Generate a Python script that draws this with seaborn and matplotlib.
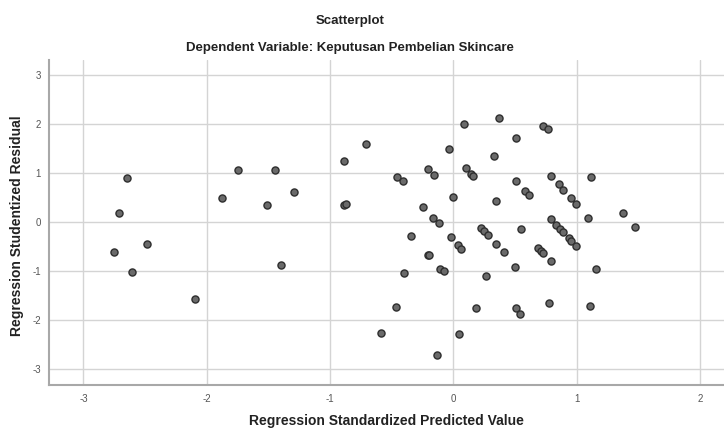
import numpy as np
import pandas as pd
import matplotlib
matplotlib.use("Agg")
import matplotlib.pyplot as plt
import seaborn as sns

# predicted value (standardized) vs studentized residual
pred = [-2.646, -2.709, -2.749, -2.487, -2.606, -2.098, -1.873, -1.749, -1.449, -1.514,
        -1.292, -1.400, -0.889, -0.884, -0.874, -0.708, -0.586, -0.459, -0.411, -0.343,
        -0.397, -0.465, -0.203, -0.157, -0.035, 0.084, 0.000, -0.243, -0.162, -0.118,
        -0.019, 0.036, 0.062, -0.203, -0.195, -0.105, -0.078, -0.132, 0.049, 0.103,
        0.141, 0.162, 0.371, 0.328, 0.346, 0.227, 0.251, 0.279, 0.346, 0.409,
        0.265, 0.184, 0.506, 0.509, 0.584, 0.611, 0.552, 0.503, 0.506, 0.544,
        0.727, 0.768, 0.792, 0.857, 0.892, 0.952, 0.995, 0.790, 0.833, 0.868,
        0.890, 0.936, 0.955, 0.995, 0.687, 0.709, 0.730, 0.792, 0.774, 1.114,
        1.095, 1.157, 1.111, 1.376, 1.476]
resid = [0.904, 0.177, -0.612, -0.456, -1.014, -1.565, 0.490, 1.061, 1.061, 0.354,
         0.619, -0.878, 1.252, 0.354, 0.360, 1.599, -2.259, 0.918, 0.844, -0.279,
         -1.034, -1.735, 1.088, 0.952, 1.483, 2.006, 0.510, 0.306, 0.088, -0.027,
         -0.306, -0.469, -0.551, -0.680, -0.670, -0.952, -1.007, -2.707, -2.293, 1.095,
         0.980, 0.939, 2.129, 1.347, 0.422, -0.116, -0.184, -0.265, -0.456, -0.612,
         -1.095, -1.748, 1.714, 0.844, 0.626, 0.558, -0.143, -0.912, -1.762, -1.884,
         1.966, 1.905, 0.939, 0.776, 0.660, 0.490, 0.367, 0.061, -0.054, -0.143,
         -0.211, -0.333, -0.388, -0.497, -0.524, -0.585, -0.639, -0.803, -1.653, 0.912,
         0.088, -0.959, -1.708, 0.184, -0.102]

xticks = [-3, -2, -1, 0, 1, 2]
yticks = [-3, -2, -1, 0, 1, 2, 3]

df = pd.DataFrame({"pred": pred, "resid": resid})

sns.set_theme(style="white")
plt.rcParams["font.family"] = ["Liberation Sans", "DejaVu Sans"]
plt.rcParams["axes.unicode_minus"] = False

fig = plt.figure(figsize=(7.24, 4.28), dpi=100)
ax = fig.add_axes([0.068, 0.10, 0.932, 0.76])

sns.scatterplot(data=df, x="pred", y="resid", ax=ax, s=26,
                color="#6a6a6a", edgecolor="#2e2e2e", linewidth=1.0, zorder=3)

ax.set_xlim(-3.277, 2.195)
ax.set_ylim(-3.33, 3.31)
ax.set_xticks(xticks)
ax.set_yticks(yticks)
ax.grid(True, color="#d4d4d4", linewidth=1.0, zorder=0)
ax.set_axisbelow(True)
for side in ["top", "right"]:
    ax.spines[side].set_visible(False)
for side in ["left", "bottom"]:
    ax.spines[side].set_color("#a8a8a8")
    ax.spines[side].set_linewidth(1.5)
ax.tick_params(axis="both", length=0, labelsize=7, labelcolor="#555555", pad=6)
ax.set_xlabel("")
ax.set_ylabel("")

fig.text(0.534, 1 - 421 / 428, "Regression Standardized Predicted Value",
         ha="center", va="center", fontsize=10, fontweight="bold", color="#222222")
fig.text(17.5 / 724, 1 - 226 / 428, "Regression Studentized Residual", rotation=90,
         ha="center", va="center", fontsize=10, fontweight="bold", color="#222222")

fig.text(0.483, 1 - 21 / 428, "Scatterplot", ha="center", va="center",
         fontsize=9.5, fontweight="bold", color="#222222")
fig.text(0.483, 1 - 47.5 / 428, "Dependent Variable: Keputusan Pembelian Skincare",
         ha="center", va="center", fontsize=9.5, fontweight="bold", color="#222222")

fig.savefig("out.png", dpi=100)
